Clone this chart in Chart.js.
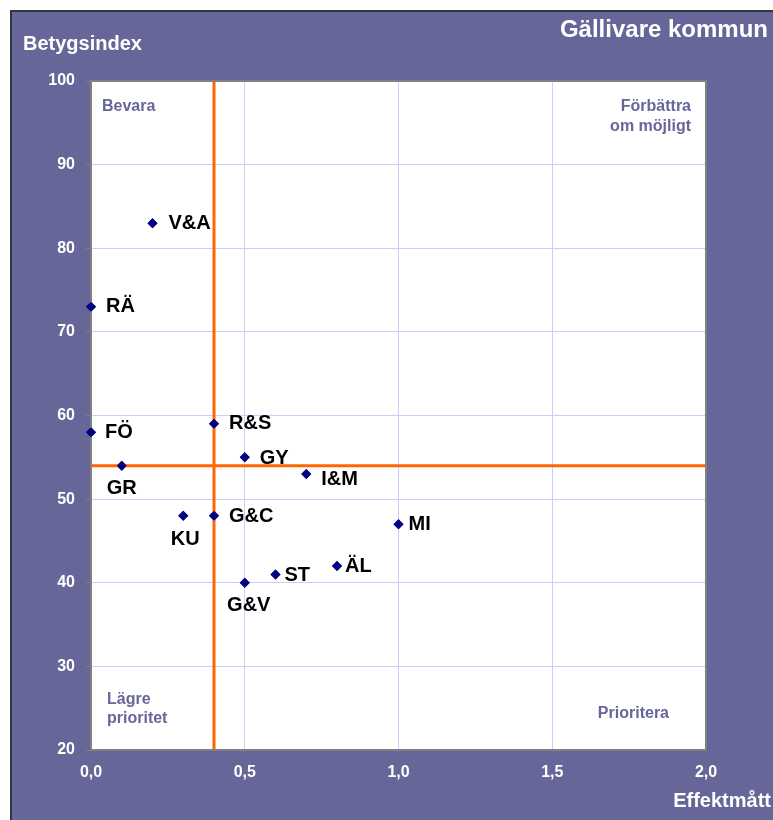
<!DOCTYPE html>
<html><head><meta charset="utf-8">
<script src="https://cdn.jsdelivr.net/npm/chart.js@4/dist/chart.umd.min.js"></script>
<style>html,body{margin:0;padding:0;background:#fff;}#wrap{width:773px;height:820px;position:relative;}</style>
</head><body><div id="wrap"><canvas id="c" width="773" height="820"></canvas></div>
<script>
const categories = ["V&A","RÄ","FÖ","GR","R&S","GY","I&M","KU","G&C","MI","ÄL","ST","G&V"];
const effektValues = [0.2, 0.0, 0.0, 0.1, 0.4, 0.5, 0.7, 0.3, 0.4, 1.0, 0.8, 0.6, 0.5];
const betygValues = [83, 73, 58, 54, 59, 55, 53, 48, 48, 47, 42, 41, 40];
const xTickLabels = ["0,0","0,5","1,0","1,5","2,0"];
const yTickLabels = ["20","30","40","50","60","70","80","90","100"];
const xThreshold = 0.4;
const yThreshold = 54;
const quadrantLabels = ["Bevara","Förbättra\nom möjligt","Lägre\nprioritet","Prioritera"];
const titleText = "Gällivare kommun";
const yTitle = "Betygsindex";
const xTitle = "Effektmått";

// label placement (style only): [dx, dy, align]
const labelPlace = [[16,0,'left'],[15,0,'left'],[14,0,'left'],[0,23,'center'],[15,0,'left'],[15,1,'left'],[15,5,'left'],[2,24,'center'],[15,1,'left'],[10,0,'left'],[8,0,'left'],[9,1,'left'],[4,23,'center']];

const FONT = "'Liberation Sans', Arial, sans-serif";
const PURPLE = '#666699';

const bgPlugin = {
  id:'bg',
  beforeDraw(chart){
    const ctx = chart.ctx;
    ctx.save();
    ctx.fillStyle = '#ffffff';
    ctx.fillRect(0,0,chart.width,chart.height);
    ctx.fillStyle = PURPLE;
    ctx.fillRect(10,10,chart.width-10,chart.height-10);
    ctx.strokeStyle = '#333344';
    ctx.lineWidth = 2;
    ctx.beginPath();
    ctx.moveTo(11,chart.height); ctx.lineTo(11,11); ctx.lineTo(chart.width,11);
    ctx.stroke();
    const a = chart.chartArea;
    ctx.fillStyle = '#ffffff';
    ctx.fillRect(a.left,a.top,a.right-a.left,a.bottom-a.top);
    ctx.restore();
  },
  afterDatasetsDraw(chart){
    const ctx = chart.ctx, a = chart.chartArea;
    const xs = chart.scales.x, ys = chart.scales.y;
    ctx.save();
    ctx.strokeStyle = '#808080';
    ctx.lineWidth = 2;
    ctx.strokeRect(a.left, a.top, a.right-a.left, a.bottom-a.top);
    chart.getDatasetMeta(2).controller.draw();
    ctx.fillStyle = '#000';
    ctx.font = 'bold 20px ' + FONT;
    ctx.textBaseline = 'middle';
    categories.forEach((c,i)=>{
      const px = xs.getPixelForValue(effektValues[i]);
      const py = ys.getPixelForValue(betygValues[i]);
      const p = labelPlace[i];
      ctx.textAlign = p[2];
      ctx.fillText(c, px+p[0], py+p[1]);
    });
    ctx.fillStyle = PURPLE;
    ctx.font = 'bold 16px ' + FONT;
    ctx.textAlign = 'left';
    ctx.fillText(quadrantLabels[0], a.left+11, a.top+26);
    ctx.textAlign = 'right';
    const q1 = quadrantLabels[1].split('\n');
    ctx.fillText(q1[0], a.right-15, a.top+26);
    ctx.fillText(q1[1], a.right-15, a.top+46);
    ctx.textAlign = 'left';
    const q2 = quadrantLabels[2].split('\n');
    ctx.fillText(q2[0], a.left+16, a.bottom-50);
    ctx.fillText(q2[1], a.left+16, a.bottom-31);
    ctx.textAlign = 'right';
    ctx.fillText(quadrantLabels[3], a.right-37, a.bottom-36);
    ctx.fillStyle = '#ffffff';
    ctx.font = 'bold 24px ' + FONT;
    ctx.textAlign = 'right';
    ctx.fillText(titleText, 768, 30);
    ctx.font = 'bold 20px ' + FONT;
    ctx.textAlign = 'left';
    ctx.fillText(yTitle, 23, 44);
    ctx.textAlign = 'right';
    ctx.fillText(xTitle, 771, 801);
    ctx.restore();
  }
};

new Chart(document.getElementById('c'), {
  type:'scatter',
  data:{
    datasets:[
      {type:'line', data:[{x:xThreshold,y:20},{x:xThreshold,y:100}], borderColor:'#ff6600', borderWidth:3, pointRadius:0, fill:false},
      {type:'line', data:[{x:0,y:yThreshold},{x:2,y:yThreshold}], borderColor:'#ff6600', borderWidth:3, pointRadius:0, fill:false},
      {data: effektValues.map((v,i)=>({x:v,y:betygValues[i]})), pointStyle:'rectRot', pointRadius:5, pointBackgroundColor:'#000080', pointBorderColor:'#000080', pointBorderWidth:0, clip:false}
    ]
  },
  options:{
    responsive:false, animation:false, devicePixelRatio:1,
    layout:{padding:{left:0,top:81,right:67,bottom:0}},
    plugins:{legend:{display:false}, tooltip:{enabled:false}},
    scales:{
      x:{type:'linear', min:0, max:2,
        afterFit(s){ s.height = 70; },
        afterBuildTicks(s){ s.ticks = xTickLabels.map((t,i)=>({value:i*0.5})); },
        ticks:{color:'#fff', font:{family:FONT, size:16, weight:'bold'}, padding:13, maxRotation:0,
          callback:(v,i)=>xTickLabels[i]},
        grid:{color:'#ccccff', lineWidth:1, drawTicks:false},
        border:{display:false}
      },
      y:{type:'linear', min:20, max:100,
        afterFit(s){ s.width = 91; },
        afterBuildTicks(s){ s.ticks = yTickLabels.map(t=>({value:Number(t)})); },
        ticks:{color:'#fff', font:{family:FONT, size:16, weight:'bold'}, padding:11,
          callback:(v,i)=>yTickLabels[i]},
        grid:{color:'#ccccff', lineWidth:1, tickColor:'#808080', tickLength:5},
        border:{display:false}
      }
    }
  },
  plugins:[bgPlugin]
});
</script></body></html>
